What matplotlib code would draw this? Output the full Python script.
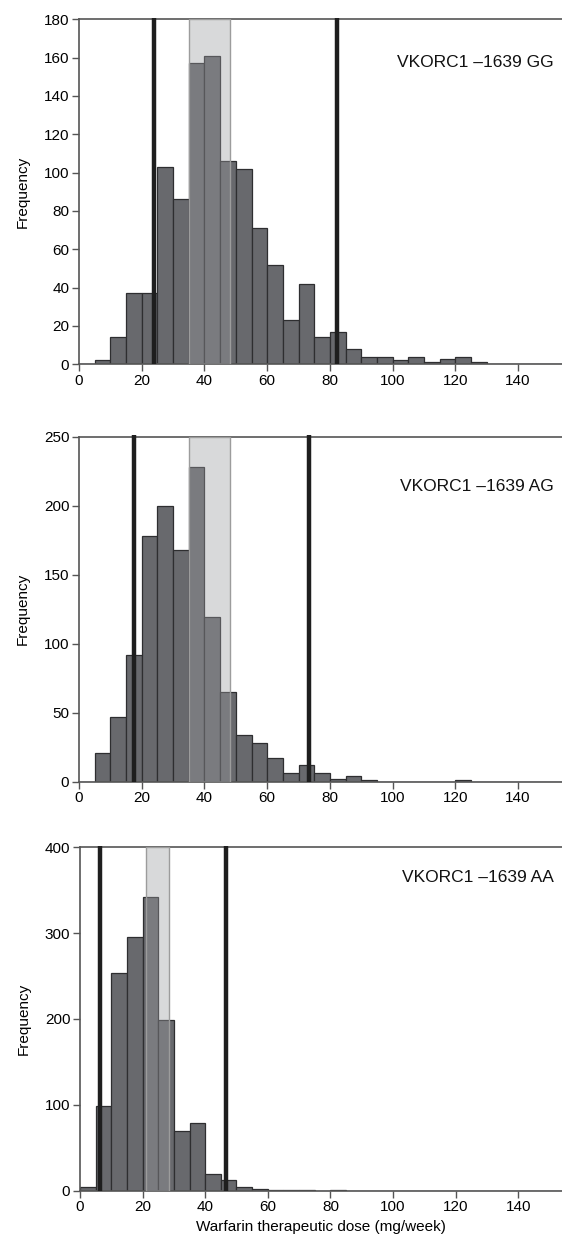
import numpy as np
import matplotlib
matplotlib.use("Agg")
import matplotlib.pyplot as plt
from matplotlib.patches import Rectangle

plt.rcParams['font.family'] = ['Liberation Sans', 'DejaVu Sans']

# bin edges (mg/week), width 5
bin_left = list(range(0, 155, 5))

gg_counts = [0, 2, 14, 37, 37, 103, 86, 157, 161, 106, 102, 71, 52, 23, 42,
             14, 17, 8, 4, 4, 2, 4, 1, 3, 4, 1, 0, 0, 0, 0, 0]
ag_counts = [0, 21, 47, 92, 178, 200, 168, 228, 119, 65, 34, 28, 17, 6, 12,
             6, 2, 4, 1, 0, 0, 0, 0, 0, 1, 0, 0, 0, 0, 0, 0]
aa_counts = [4, 99, 254, 295, 342, 199, 69, 79, 19, 12, 4, 2, 1, 1, 1,
             0, 1, 0, 0, 0, 0, 0, 0, 0, 0, 0, 0, 0, 0, 0, 0]

labels = ["VKORC1 \u20131639 GG", "VKORC1 \u20131639 AG", "VKORC1 \u20131639 AA"]
ymax = [180, 250, 400]
yticks = [list(range(0, 181, 20)), list(range(0, 251, 50)), list(range(0, 401, 100))]
vlines = [(23.8, 82.3), (17.6, 73.2), (6.3, 46.6)]
shade = [(35, 48), (35, 48), (21, 28.5)]
label_y = [0.876, 0.857, 0.913]
xticks = list(range(0, 141, 20))

fig = plt.figure(figsize=(5.62, 12.43), dpi=100)
positions = [
    [0.1406, 0.7069, 0.8594, 0.2776],
    [0.1406, 0.3711, 0.8594, 0.2776],
    [0.1423, 0.0421, 0.8577, 0.2763],
]
all_counts = [gg_counts, ag_counts, aa_counts]

for i in range(3):
    ax = fig.add_axes(positions[i])
    counts = all_counts[i]
    ax.bar(bin_left, counts, width=5, align='edge', color='#68696d',
           edgecolor='#2e2e30', linewidth=0.9, zorder=2)
    s0, s1 = shade[i]
    ax.add_patch(Rectangle((s0, 0), s1 - s0, ymax[i], facecolor='#9a9b9f',
                           alpha=0.38, edgecolor='none', zorder=3))
    ax.add_patch(Rectangle((s0, 0), s1 - s0, ymax[i], facecolor='none',
                           edgecolor='#9c9c9c', linewidth=1.0, zorder=3))
    for v in vlines[i]:
        ax.plot([v, v], [0, ymax[i] * 1.005], color='#1e1e1e', linewidth=3.2,
                zorder=4, clip_on=False, solid_capstyle='butt')
    ax.set_xlim(0, 154)
    ax.set_ylim(0, ymax[i])
    ax.set_xticks(xticks)
    ax.set_yticks(yticks[i])
    ax.spines['right'].set_visible(False)
    for sp in ['left', 'bottom', 'top']:
        ax.spines[sp].set_color('#555555')
        ax.spines[sp].set_linewidth(1.2)
    ax.tick_params(axis='both', direction='out', length=5, width=1.0,
                   color='#555555', labelsize=11, pad=2)
    ax.set_ylabel('Frequency', fontsize=11, labelpad=10)
    ax.text(0.983, label_y[i], labels[i], transform=ax.transAxes,
            ha='right', va='center', fontsize=12.5, color='#111111')
    if i == 2:
        ax.set_xlabel('Warfarin therapeutic dose (mg/week)', fontsize=11,
                      labelpad=4)

fig.savefig('out.png', dpi=100)
